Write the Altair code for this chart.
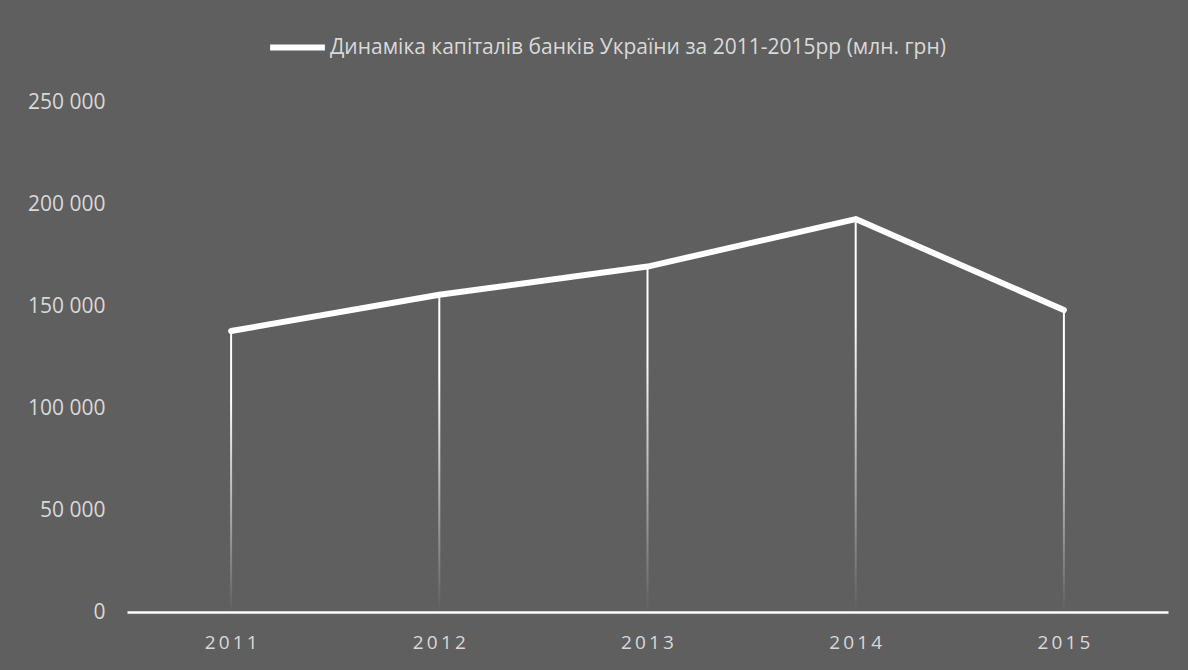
import altair as alt
import pandas as pd

years = ["2011", "2012", "2013", "2014", "2015"]
capital = [137725, 155487, 169320, 192599, 148023]
series_name = "Динаміка капіталів банків України за 2011-2015рр (млн. грн)"
y_ticks = [0, 50000, 100000, 150000, 200000, 250000]

df = pd.DataFrame({"year": years, "capital": capital, "series": [series_name] * len(years)})

BG = "#5f5f5f"
TXT = "#d9d9d9"
FONT = "Open Sans"

x_enc = alt.X("year:N", title=None, sort=years,
              scale=alt.Scale(paddingInner=0, paddingOuter=0),
              axis=alt.Axis(labelAngle=0, labelColor=TXT, labelFontSize=19, labelFont=FONT,
                            labelPadding=21, ticks=False, domainColor="white",
                            domainWidth=2.5, grid=False,
                            labelExpr="join(split(datum.label, ''), '\u2009')"))
y_enc = alt.Y("capital:Q", title=None,
              scale=alt.Scale(domain=[0, 250000], nice=False),
              axis=alt.Axis(values=y_ticks, labelColor=TXT, labelFontSize=21, labelFont=FONT,
                            labelPadding=22, ticks=False, domain=False, grid=False,
                            labelExpr="replace(format(datum.value, ','), ',', ' ')"))

drops = alt.Chart(df).mark_bar(
    size=2,
    color=alt.Gradient(
        gradient="linear",
        stops=[alt.GradientStop(color="white", offset=0),
               alt.GradientStop(color="white", offset=0.25),
               alt.GradientStop(color="rgba(255,255,255,0)", offset=1)],
        x1=0, x2=0, y1=0, y2=1),
).encode(x=x_enc, y=y_enc, y2=alt.datum(0))

line = alt.Chart(df).mark_line(strokeWidth=6, strokeCap="round", strokeJoin="round").encode(
    x=x_enc, y=y_enc,
    color=alt.Color("series:N", title=None,
                    scale=alt.Scale(range=["white"]),
                    legend=alt.Legend(orient="none", legendX=140, legendY=-85,
                                      symbolType="stroke", symbolSize=3000,
                                      symbolStrokeWidth=6, labelColor=TXT, labelFontSize=21,
                                      labelFont=FONT, labelLimit=900,
                                      symbolOffset=0, labelOffset=2)),
)

chart = alt.layer(drops, line).properties(
    width=1041, height=510,
    background=BG,
    padding={"left": 127, "top": 102, "right": 20, "bottom": 58},
    autosize=alt.AutoSizeParams(type="none"),
).configure_view(stroke=None)

chart.save("out.html", embed_options={"renderer": "svg", "actions": False})
